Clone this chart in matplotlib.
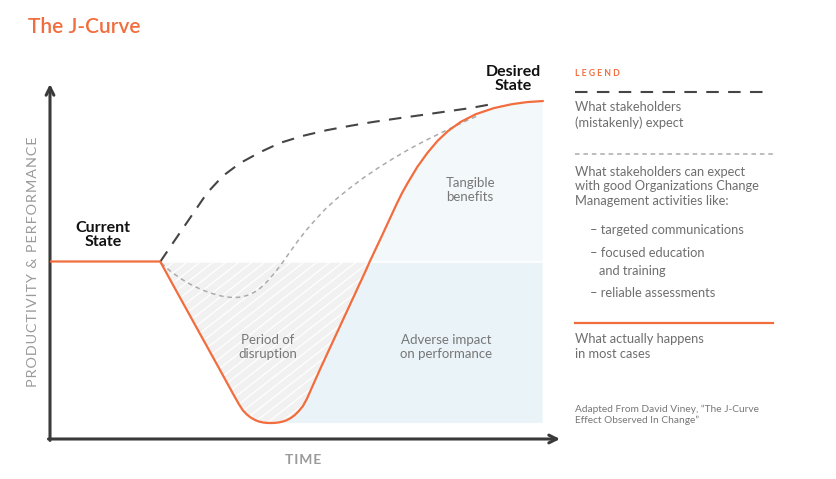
import numpy as np
import matplotlib
matplotlib.use('Agg')
import matplotlib.pyplot as plt
from matplotlib.lines import Line2D
from matplotlib.transforms import IdentityTransform

# --- data (time 0-100, performance 0-100) ---
baseline = 50  # current state level

# what actually happens (orange J-curve)
actual_x = [0, 21.6, 25, 29, 33, 36, 37, 37.8, 38.6, 39.4, 40.2, 41, 41.8, 42.6, 43.3, 44,
            44.8, 45.6, 46.4, 47.2, 48, 48.8, 49.6, 50.4, 51.2, 53, 56, 59, 62, 62.7, 65, 68,
            69, 70, 72, 74, 76, 78, 80.5, 83.5, 87, 90.5, 93.5, 96.6]
actual_y = [50, 50, 41.1, 30.7, 20.3, 12.45, 9.9, 8.1, 6.9, 6.0, 5.35, 4.9, 4.65, 4.52, 4.5,
            4.53, 4.65, 4.9, 5.3, 5.9, 6.75, 7.9, 9.3, 11.4, 14.0, 19.8, 29.1, 38.4, 47.7, 50,
            57, 66.3, 69.2, 71.8, 76.6, 80.6, 84, 86.7, 89.3, 91.5, 93.2, 94.3, 94.9, 95.2]

# what stakeholders (mistakenly) expect
expect_x = [21.6, 24.1, 27.45, 30.8, 33.9, 37.25, 41.2, 45.1, 49.6, 54.3, 58.8, 63.3, 68.6,
            73.1, 78.4, 82.35, 86.9]
expect_y = [49.9, 55.2, 62.25, 69.3, 74.1, 77.7, 80.8, 83.4, 85.4, 87.0, 88.2, 89.3, 90.4,
            91.3, 92.4, 93.2, 94.4]

# with good change management
good_x = [21.8, 23.5, 25.5, 27.5, 29.5, 31.5, 33.5, 35.3, 37.0, 38.6, 40.0, 41.3, 42.6, 44.0,
          45.5, 47.0, 48.6, 50.3, 52.0, 54.0, 56.3, 58.8, 61.5, 64.5, 67.5, 70.5, 73.5, 76.5,
          79.5, 82.0, 84.0]
good_y = [49.6, 47.4, 45.3, 43.6, 42.2, 41.1, 40.3, 39.9, 39.9, 40.4, 41.3, 42.6, 44.4, 46.7,
          49.5, 52.6, 55.8, 58.9, 61.7, 64.8, 67.8, 70.7, 73.6, 76.5, 79.2, 81.7, 84.0, 86.1,
          88.2, 89.9, 91.1]

ORANGE = '#f26d3d'
DARK = '#3a3a3a'
GREY_TXT = '#6e6e6e'
HS = '\u200a'  # hair space for letter spacing

plt.rcParams['font.family'] = ['Lato', 'DejaVu Sans']

W, H = 836, 479
fig = plt.figure(figsize=(W / 100, H / 100), dpi=100)
ax = fig.add_axes([50 / W, 40 / H, 510 / W, 355 / H])
ax.set_xlim(0, 100)
ax.set_ylim(0, 100)
ax.axis('off')

ox = np.array(actual_x)
oy = np.array(actual_y)
bottom = oy.min()
x_low = ox[np.argmin(oy)]

# period of disruption (grey with white diagonal stripes)
dip = ax.fill_between(ox, oy, baseline, where=(ox >= actual_x[1]) & (oy <= baseline),
                      facecolor='#f1f1f1', linewidth=0, zorder=1)
dip_path = dip.get_paths()[0]
for k in range(-40, 60):
    stripe = Line2D([k * 13, k * 13 + 500], [0, 500 * 0.78], transform=IdentityTransform(),
                    color='white', lw=0.9, zorder=1.5)
    ax.add_line(stripe)
    stripe.set_clip_path(dip_path, ax.transData)

# adverse impact
ax.fill_between(ox, bottom, np.minimum(oy, baseline), where=ox >= x_low,
                facecolor='#eaf3f7', linewidth=0, zorder=1)
# tangible benefits
ax.fill_between(ox, baseline, oy, where=(oy >= baseline) & (ox > x_low),
                facecolor='#f3f8fb', linewidth=0, zorder=1)
ax.plot([actual_x[1], actual_x[-1]], [baseline, baseline], color='white', lw=1.2, zorder=2)

# curves
ax.plot(expect_x, expect_y, color='#454545', lw=1.5, dashes=(6, 4.5), zorder=3)
ax.plot(good_x, good_y, color='#ababab', lw=1.1, dashes=(3, 2.5), zorder=3)
ax.plot(ox, oy, color=ORANGE, lw=1.6, solid_joinstyle='round', zorder=4)

# axes arrows
arrow = dict(arrowstyle='->', lw=2.2, color=DARK, mutation_scale=14, shrinkA=0, shrinkB=0)
ax.annotate('', xy=(0, 1), xytext=(0, -0.004), xycoords='axes fraction', arrowprops=arrow)
ax.annotate('', xy=(1, 0), xytext=(-0.003, 0), xycoords='axes fraction', arrowprops=arrow)

# labels on chart
ax.text(10.4, 57.5, 'Current\nState', ha='center', va='center', fontsize=11.5,
        fontweight='bold', color='#111111', linespacing=0.95)
ax.text(90.8, 101.4, 'Desired\nState', ha='center', va='center', fontsize=11.5,
        fontweight='bold', color='#111111', linespacing=0.95, clip_on=False)
ax.text(82.4, 70.1, 'Tangible\nbenefits', ha='center', va='center', fontsize=9.5,
        color='#777777', linespacing=1.15)
ax.text(42.7, 25.9, 'Period of\ndisruption', ha='center', va='center', fontsize=9.5,
        color='#777777', linespacing=1.15)
ax.text(77.6, 25.9, 'Adverse impact\non performance', ha='center', va='center', fontsize=9.5,
        color='#777777', linespacing=1.15)
ax.text(49.6, -5.9, HS.join('TIME'), ha='center', va='center', fontsize=10, fontweight='bold',
        color='#9a9a9a', clip_on=False)
ax.text(-3.3, 50, HS.join('PRODUCTIVITY & PERFORMANCE'), ha='center', va='center',
        rotation=90, fontsize=10.4, color='#9a9a9a', clip_on=False)


def fx(px):
    return px / W


def fy(py):
    return 1 - py / H


# title
fig.text(fx(28), fy(27), 'The J-Curve', fontsize=15, fontweight='semibold', color=ORANGE,
         va='center', ha='left')

# legend panel
fig.text(fx(575), fy(73), 'L E G E N D', fontsize=6.2, fontweight='bold', color=ORANGE,
         va='center')
fig.add_artist(Line2D([fx(575), fx(771)], [fy(92)] * 2, transform=fig.transFigure,
                      color='#454545', lw=1.5, dashes=(6, 4.5)))
fig.text(fx(575), fy(115), 'What stakeholders\n(mistakenly) expect', fontsize=9.3,
         color=GREY_TXT, va='center', linespacing=1.25)
fig.add_artist(Line2D([fx(575), fx(775)], [fy(154)] * 2, transform=fig.transFigure,
                      color='#ababab', lw=1.1, dashes=(3, 2.5)))
fig.text(fx(575), fy(186.5), 'What stakeholders can expect\nwith good Organizations Change\n'
         'Management activities like:', fontsize=9.3, color=GREY_TXT, va='center',
         linespacing=1.25)
fig.text(fx(590), fy(230), '– targeted communications', fontsize=9.3, color=GREY_TXT,
         va='center')
fig.text(fx(590), fy(253), '– focused education', fontsize=9.3, color=GREY_TXT, va='center')
fig.text(fx(599), fy(271), 'and training', fontsize=9.3, color=GREY_TXT, va='center')
fig.text(fx(590), fy(293), '– reliable assessments', fontsize=9.3, color=GREY_TXT,
         va='center')
fig.add_artist(Line2D([fx(575), fx(773)], [fy(323)] * 2, transform=fig.transFigure,
                      color=ORANGE, lw=1.6))
fig.text(fx(575), fy(346.5), 'What actually happens\nin most cases', fontsize=9.3,
         color=GREY_TXT, va='center', linespacing=1.25)
fig.text(fx(575), fy(415), 'Adapted From David Viney, “The J-Curve\nEffect Observed In Change”',
         fontsize=7.3, color='#777777', va='center', linespacing=1.15)

fig.savefig('out.png', dpi=100)
